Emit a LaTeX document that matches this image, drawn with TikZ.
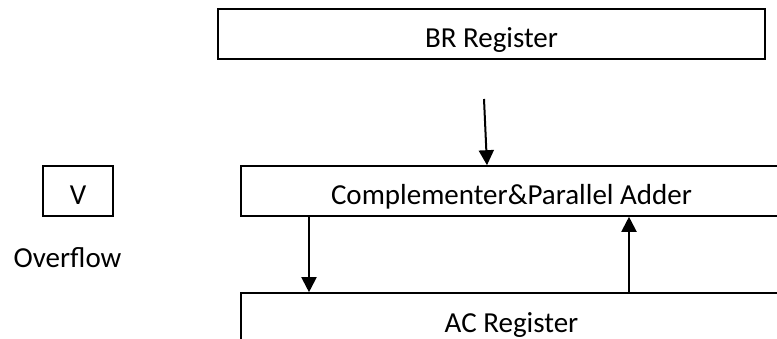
\documentclass[tikz,border=0pt]{standalone}
\usepackage{fontspec}
\setmainfont{Carlito}
\usepackage{tikz}
\usetikzlibrary{arrows.meta, positioning, calc}

\begin{document}
\begin{tikzpicture}[x=1pt, y=-1pt,
    box/.style={rectangle, draw, line width=1.6pt, inner sep=0pt, minimum height=50pt, text height=27pt, text depth=0pt, font=\fontsize{29}{34}\selectfont},
    flow/.style={-{Triangle[width=15pt,length=15pt]}, line width=2pt}]
    \useasboundingbox (0,0) rectangle (777,339);
    \clip (0,0) rectangle (777,339);

    % Nodes
    \node (br) [box, line width=2.4pt, minimum width=547pt] at (491.5,34) {BR Register};
    \node (cpa) [box, minimum width=541pt] at (511.5,191) {Complementer\&Parallel Adder};
    \node (ac) [box, minimum width=541pt, text height=29pt] at (511.5,318) {AC Register};
    \node (v) [box, minimum width=70pt] at (78,191) {V};
    \node (ovf) [anchor=base, inner sep=0pt, font=\fontsize{29}{34}\selectfont] at (67.5,268) {Overflow};

    % Flows
    \coordinate (brfeed) at (484,99);
    \draw[flow] (brfeed) -- ([xshift=-24.5pt]cpa.north);
    \draw[flow] ([xshift=-202.5pt]cpa.south) -- ([xshift=-202.5pt]ac.north);
    \draw[flow] ([xshift=117.5pt]ac.north) -- ([xshift=117.5pt]cpa.south);

\end{tikzpicture}
\end{document}
